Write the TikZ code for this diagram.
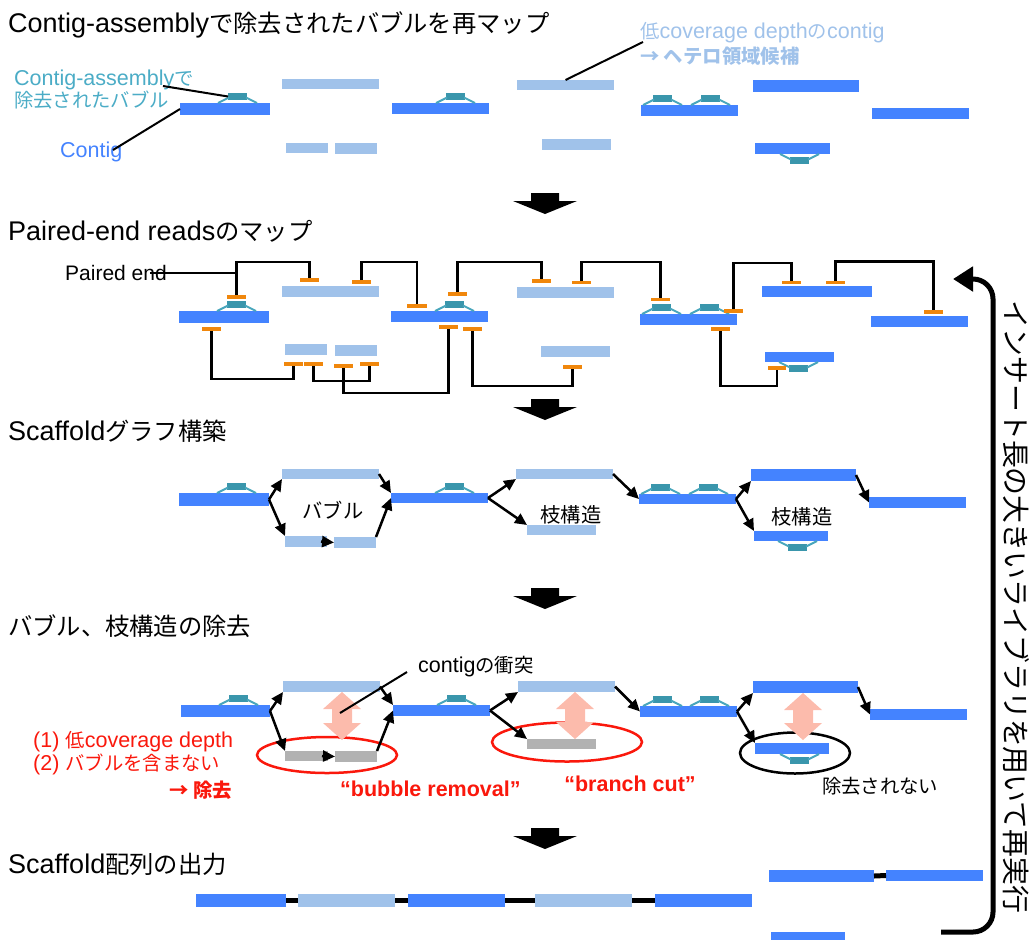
\documentclass[tikz,border=0pt]{standalone}
\usepackage{fontspec}
\setmainfont{Liberation Sans}
\newfontfamily\jpf{Noto Sans CJK JP}[Scale=0.9]
\newcommand\J[1]{{\jpf #1}}
\usetikzlibrary{arrows.meta,calc}

\definecolor{cblue}{RGB}{68,131,255}
\definecolor{lblue}{RGB}{160,194,234}
\definecolor{tealfill}{RGB}{58,150,172}
\definecolor{tealline}{RGB}{72,166,188}
\definecolor{tealtxt}{RGB}{75,172,198}
\definecolor{orng}{RGB}{240,135,12}
\definecolor{gbar}{RGB}{178,178,178}
\definecolor{pinkar}{RGB}{252,187,172}
\definecolor{redtxt}{RGB}{250,24,12}

% a bar from (x1,y1) to (x2,y2), y grows downwards
\newcommand\mkbar[6]{\node[#2, minimum width={(#5)-(#3)}, minimum height={(#6)-(#4)}] (#1) at ({((#3)+(#5))/2},{((#4)+(#6))/2}) {};}
% bubble sitting on top of a contig: name, left x, contig top y
\newcommand\bubup[3]{%
  \mkbar{#1}{bubblebox}{#2}{#3-10}{#2+19}{#3-3}
  \draw[bubbleln] ($(#1.south west)+(-10,3)$) -- ($(#1.west)+(1,1)$);
  \draw[bubbleln] ($(#1.east)+(-1,1)$) -- ($(#1.south east)+(10,3)$);}
% bubble hanging below a contig: name, left x, contig bottom y
\newcommand\bubdown[3]{%
  \mkbar{#1}{bubblebox}{#2}{#3+3}{#2+19}{#3+10}
  \draw[bubbleln] ($(#1.north west)+(-10,-3)$) -- ($(#1.west)+(1,-1)$);
  \draw[bubbleln] ($(#1.east)+(-1,-1)$) -- ($(#1.north east)+(10,-3)$);}
% read pairs joined above / below
\newcommand\pairup[3]{\draw[pairln] (#1.north) -- (#1.north |- 0,#3) -| (#2.north);}
\newcommand\pairdown[3]{\draw[pairln] (#1.south) -- (#1.south |- 0,#3) -| (#2.south);}
% block arrow between the steps: centre x, top y
\newcommand\stepdown[2]{\fill[black] (#1-14,#2) -- (#1+14,#2) -- (#1+14,#2+8) -- (#1+32,#2+8) -- (#1,#2+21) -- (#1-32,#2+8) -- (#1-14,#2+8) -- cycle;}
% double-headed conflict arrow: centre x, top y, bottom y
\newcommand\clash[3]{\fill[pinkar] (#1,#2) -- (#1+19,#2+17) -- (#1+10,#2+17) -- (#1+10,#3-17) -- (#1+19,#3-17) -- (#1,#3) -- (#1-19,#3-17) -- (#1-10,#3-17) -- (#1-10,#2+17) -- (#1-19,#2+17) -- cycle;}

\begin{document}
\begin{tikzpicture}[x=1pt, y=-1pt,
  barbase/.style={rectangle, draw=none, inner sep=0pt, outer sep=0pt},
  contig/.style={barbase, fill=cblue},
  lowcov/.style={barbase, fill=lblue},
  grayed/.style={barbase, fill=gbar},
  readend/.style={barbase, fill=orng},
  bubblebox/.style={barbase, fill=tealfill},
  bubbleln/.style={draw=tealline, line width=2pt},
  pairln/.style={draw=black, line width=2.5pt},
  pointer/.style={draw=black, line width=2pt},
  link/.style={draw=black, line width=2.5pt, -{Triangle[length=12pt,width=11pt]}},
  joinln/.style={draw=black, line width=5pt},
  heading/.style={anchor=base west, inner sep=0pt, font=\fontsize{27}{32}\selectfont},
  lbl/.style={anchor=base west, inner sep=0pt, font=\fontsize{21.5}{24}\selectfont},
  jlbl/.style={inner sep=0pt, font=\fontsize{22.5}{24}\selectfont},
  redlbl/.style={lbl, text=redtxt},
  redbold/.style={lbl, text=redtxt, font=\fontsize{21.5}{24}\selectfont\bfseries},
]
\useasboundingbox (0,0) rectangle (1032,940);

% ---------- step headings ----------
\node[heading] (h1) at (8,32) {Contig-assembly\J{で除去されたバブルを再マップ}};
\node[heading] (h2) at (8,240) {Paired-end reads\J{のマップ}};
\node[heading] (h3) at (8,440) {Scaffold\J{グラフ構築}};
\node[heading] (h4) at (8,635) {\J{バブル、枝構造の除去}};
\node[heading] (h5) at (8,873) {Scaffold\J{配列の出力}};

\stepdown{545}{193}
\stepdown{545}{399}
\stepdown{545}{588}
\stepdown{545}{828}

% ---------- step 1: remapped bubbles ----------
\mkbar{pc1}{contig}{180}{103}{270}{115}
\bubup{pb1}{228}{103}
\mkbar{pA}{lowcov}{282}{79}{379}{89}
\mkbar{ps1}{lowcov}{286}{143}{328}{153}
\mkbar{ps2}{lowcov}{335}{143}{377}{154}
\mkbar{pc2}{contig}{392}{103}{489}{114}
\bubup{pb2}{446}{103}
\mkbar{pB}{lowcov}{517}{80}{614}{90}
\mkbar{pC}{lowcov}{542}{139}{611}{150}
\mkbar{pc3}{contig}{641}{105}{738}{116}
\bubup{pb3}{653}{105}
\bubup{pb4}{701}{105}
\mkbar{pc4}{contig}{753}{80}{859}{92}
\mkbar{pc5}{contig}{872}{108}{969}{119}
\mkbar{pc6}{contig}{755}{143}{830}{154}
\bubdown{pb5}{790}{154}

\node[lbl, text=tealtxt] (bublbl1) at (14,85) {Contig-assembly\J{で}};
\node[lbl, text=tealtxt] (bublbl2) at (14,107) {\J{除去されたバブル}};
\coordinate (bubtail) at (163,86);
\draw[pointer] (bubtail) -- (pb1.west);
\node[lbl, text=cblue] (contiglbl) at (60,157) {Contig};
\coordinate (contigtail) at (113,150);
\draw[pointer] (contigtail) -- (pc1.west);
\node[lbl, text=lblue] (lowlbl1) at (640,38) {\J{低}coverage depth\J{の}contig};
\node[lbl, text=lblue, font=\fontsize{21.5}{24}\selectfont\bfseries] (lowlbl2) at (640,63) {\J{→ ヘテロ領域候補}};
\coordinate (lowtail) at (643,42);
\draw[pointer] (pB.north) -- (lowtail);

% ---------- step 2: paired-end reads ----------
\mkbar{qc1}{contig}{179}{311}{269}{323}
\bubup{qb1}{227}{311}
\mkbar{qA}{lowcov}{282}{286}{379}{297}
\mkbar{qs1}{lowcov}{285}{344}{327}{355}
\mkbar{qs2}{lowcov}{335}{345}{377}{356}
\mkbar{qc2}{contig}{391}{311}{488}{322}
\bubup{qb2}{445}{311}
\mkbar{qB}{lowcov}{517}{287}{614}{298}
\mkbar{qC}{lowcov}{541}{346}{610}{357}
\mkbar{qc3}{contig}{640}{314}{737}{325}
\bubup{qb3}{652}{314}
\bubup{qb4}{700}{314}
\mkbar{qc4}{contig}{762}{286}{872}{297}
\mkbar{qc5}{contig}{871}{316}{968}{327}
\mkbar{qc6}{contig}{765}{352}{834}{362}
\bubdown{qb5}{789}{362}

\mkbar{qo1}{readend}{227}{295}{246}{299}
\mkbar{qo2}{readend}{300}{278}{319}{282}
\mkbar{qo3}{readend}{352}{280}{371}{284}
\mkbar{qo4}{readend}{407}{304}{427}{308}
\mkbar{qo5}{readend}{448}{292}{467}{296}
\mkbar{qo6}{readend}{532}{279}{551}{283}
\mkbar{qo7}{readend}{572}{281}{591}{284}
\mkbar{qo8}{readend}{651}{298}{670}{301}
\mkbar{qo9}{readend}{724}{309}{743}{313}
\mkbar{qo10}{readend}{782}{281}{801}{284}
\mkbar{qo11}{readend}{826}{281}{845}{284}
\mkbar{qo12}{readend}{924}{310}{943}{314}
\mkbar{qu1}{readend}{202}{327}{221}{331}
\mkbar{qu2}{readend}{284}{362}{303}{366}
\mkbar{qu3}{readend}{304}{362}{323}{366}
\mkbar{qu4}{readend}{334}{364}{353}{368}
\mkbar{qu5}{readend}{360}{362}{379}{366}
\mkbar{qu6}{readend}{439}{325}{458}{329}
\mkbar{qu7}{readend}{463}{327}{482}{331}
\mkbar{qu8}{readend}{563}{365}{582}{369}
\mkbar{qu9}{readend}{711}{327}{730}{331}
\mkbar{qu10}{readend}{768}{366}{786}{370}

\pairup{qo1}{qo2}{262}
\pairup{qo3}{qo4}{262}
\pairup{qo5}{qo6}{262}
\pairup{qo7}{qo8}{262}
\pairup{qo9}{qo10}{263}
\pairup{qo11}{qo12}{261.5}
\pairdown{qu1}{qu2}{379}
\pairdown{qu3}{qu5}{381}
\pairdown{qu4}{qu6}{393}
\pairdown{qu7}{qu8}{386}
\pairdown{qu9}{qu10}{386}

\node[lbl, font=\fontsize{21}{24}\selectfont] (pelbl) at (65,280) {Paired end};
\coordinate (petail) at (150,273);
\draw[pairln] (petail) -- (qo1.north |- petail);

% ---------- step 3: scaffold graph ----------
\mkbar{rc1}{contig}{179}{493}{269}{506}
\bubup{rb1}{227}{493}
\mkbar{rA}{lowcov}{282}{469}{379}{479}
\mkbar{rs1}{lowcov}{285}{536}{327}{547}
\mkbar{rs2}{lowcov}{334}{537}{376}{548}
\mkbar{rc2}{contig}{391}{493}{488}{503}
\bubup{rb2}{445}{493}
\mkbar{rB}{lowcov}{516}{469}{613}{479}
\mkbar{rC}{lowcov}{527}{525}{596}{535}
\mkbar{rc3}{contig}{639}{494}{736}{504}
\bubup{rb3}{651}{494}
\bubup{rb4}{699}{494}
\mkbar{rc4}{contig}{751}{469}{856}{481}
\mkbar{rc5}{contig}{869}{497}{966}{508}
\mkbar{rc6}{contig}{754}{531}{828}{541}
\bubdown{rb5}{788}{541}

\draw[link] (rc1.east) -- (rA.south west);
\draw[link] (rc1.east) -- (rs1.north west);
\draw[link] ($(rs1.east)+(-6,0)$) -- (rs2.west);
\draw[link] (rA.east) -- (rc2.north west);
\draw[link] (rs2.north east) -- (rc2.west);
\draw[link] (rc2.east) -- (rB.south west);
\draw[link] (rc2.east) -- (rC.north west);
\draw[link] (rB.east) -- (rc3.west);
\draw[link] (rc3.east) -- (rc4.south west);
\draw[link] (rc3.east) -- (rc6.north west);
\draw[link] (rc4.east) -- (rc5.west);

\node[jlbl] (bubtxt) at (333,510) {\J{バブル}};
\node[jlbl] (brtxt1) at (571,515) {\J{枝構造}};
\node[jlbl] (brtxt2) at (802,517) {\J{枝構造}};

% ---------- step 4: removing bubbles and branches ----------
\draw[redtxt, line width=2.5pt] (327,755) ellipse [x radius=70pt, y radius=18pt];
\draw[redtxt, line width=2.5pt] (567,742) ellipse [x radius=75pt, y radius=19.5pt];
\draw[black, line width=2.5pt] (795,753) ellipse [x radius=55pt, y radius=20.5pt];
\clash{342}{692}{740}
\clash{575}{692}{739}
\clash{803}{693}{740}

\mkbar{tc1}{contig}{181}{705}{270}{717}
\bubup{tb1}{229}{705}
\mkbar{tA}{lowcov}{283}{681}{380}{692}
\mkbar{tg1}{grayed}{285}{751}{328}{761}
\mkbar{tg2}{grayed}{335}{751}{377}{762}
\mkbar{tc2}{contig}{393}{705}{490}{716}
\bubup{tb2}{447}{705}
\mkbar{tB}{lowcov}{518}{681}{615}{692}
\mkbar{tgC}{grayed}{527}{739}{596}{749}
\mkbar{tc3}{contig}{640}{706}{737}{717}
\bubup{tb3}{653}{706}
\bubup{tb4}{700}{706}
\mkbar{tc4}{contig}{753}{681}{858}{693}
\mkbar{tc5}{contig}{870}{709}{967}{720}
\mkbar{tc6}{contig}{755}{743}{829}{754}
\bubdown{tb5}{790}{754}

\draw[link] (tc1.east) -- (tA.south west);
\draw[link] (tc1.east) -- (tg1.north west);
\draw[link] ($(tg1.east)+(-6,0)$) -- (tg2.west);
\draw[link] (tA.east) -- (tc2.north west);
\draw[link] (tg2.north east) -- (tc2.west);
\draw[link] (tc2.east) -- (tB.south west);
\draw[link] (tc2.east) -- (tgC.north west);
\draw[link] (tB.east) -- (tc3.west);
\draw[link] (tc3.east) -- (tc4.south west);
\draw[link] (tc3.east) -- (tc6.north west);
\draw[link] (tc4.east) -- (tc5.west);

\node[lbl] (clashlbl) at (418,672) {contig\J{の衝突}};
\coordinate (clashpt) at (340,713);
\draw[pointer] (clashpt) -- ($(clashlbl.base west)+(-11,0)$);

\node[redlbl] (why1) at (33,747) {(1) \J{低}coverage depth};
\node[redlbl] (why2) at (33,770) {(2) \J{バブルを含まない}};
\node[redbold, anchor=base east] (why3) at (232,797) {\J{→ 除去}};
\node[redbold] (bubrm) at (340,796) {“bubble removal”};
\node[redbold, anchor=base] (brcut) at (630,791) {“branch cut”};
\node[lbl] (kept) at (822,793) {\J{除去されない}};

% ---------- step 5: scaffold output ----------
\mkbar{ub1}{contig}{196}{894}{286}{907}
\mkbar{ul1}{lowcov}{298}{894}{395}{907}
\mkbar{ub2}{contig}{408}{894}{505}{907}
\mkbar{ul2}{lowcov}{535}{894}{632}{907}
\mkbar{ub3}{contig}{655}{894}{752}{907}
\mkbar{ub4}{contig}{769}{870}{874}{882}
\mkbar{ub5}{contig}{886}{870}{983}{881}
\mkbar{ub6}{contig}{771}{932}{845}{940}
\draw[joinln] (ub1.east) -- (ul1.west);
\draw[joinln] (ul1.east) -- (ub2.west);
\draw[joinln] (ub2.east) -- (ul2.west);
\draw[joinln] (ul2.east) -- (ub3.west);
\draw[joinln] (ub4.east) -- (ub5.west);

% ---------- loop back with a longer insert library ----------
\coordinate (loopstart) at (941,932);
\coordinate (loopend) at (953,279);
\draw[line width=5pt, rounded corners=20pt, -{Triangle[length=20pt,width=24pt]}]
  (loopstart) -- (993,932) -- (993,279) -- (loopend);
\node[rotate=-90, inner sep=0pt, font=\fontsize{31}{31}\selectfont] (looptxt) at (1016,607)
  {\J{インサート長の大きいライブラリを用いて再実行}};
\end{tikzpicture}
\end{document}
